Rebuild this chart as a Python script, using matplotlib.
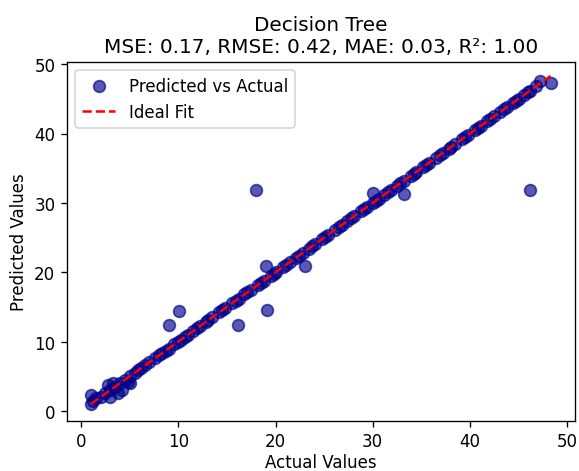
import matplotlib
matplotlib.use("Agg")
import matplotlib.pyplot as plt

# Actual target values and the decision tree's predictions
actual = [
    1.0, 1.0, 1.2, 1.5, 2.0, 2.5, 2.8, 3.0, 3.0, 3.3, 3.5, 3.8, 4.0, 4.2, 4.5, 4.8, 5.0, 5.0,
    5.5, 5.9, 6.2, 6.6, 7.0, 7.6, 8.0, 8.3, 8.7, 9.0, 9.6, 10.0, 10.3, 10.7, 11.0, 11.5,
    11.9, 12.2, 12.8, 13.1, 13.5, 14.2, 14.5, 14.8, 15.5, 15.9, 16.2, 16.8, 17.1, 17.5,
    18.2, 18.5, 18.8, 19.5, 19.8, 20.1, 20.8, 21.1, 21.5, 22.1, 22.4, 22.8, 23.4, 23.8,
    24.1, 24.8, 25.1, 25.4, 26.1, 26.5, 26.8, 27.4, 27.8, 28.1, 28.8, 29.1, 29.4, 30.0,
    30.3, 30.6, 31.2, 31.6, 31.9, 32.5, 32.8, 33.2, 33.9, 34.2, 34.5, 35.2, 35.5, 35.8,
    36.5, 36.9, 37.2, 37.8, 38.1, 38.5, 39.2, 39.5, 39.8, 40.5, 40.8, 41.1, 41.8, 42.1,
    42.5, 43.1, 43.5, 43.8, 44.4, 44.7, 45.0, 45.6, 46.0, 46.2, 46.8, 47.2, 48.3,
    9.0, 10.1, 16.1, 18.0, 19.0, 19.1, 23.0, 30.0, 33.2, 46.2,
]
predicted = [
    1.0, 2.3, 1.4, 1.8, 2.0, 2.6, 3.7, 3.0, 2.0, 4.1, 3.5, 2.6, 4.0, 3.0, 4.5, 4.2, 5.0, 4.0,
    5.5, 5.9, 6.2, 6.6, 7.0, 7.6, 8.0, 8.3, 8.7, 9.0, 9.6, 10.0, 10.3, 10.7, 11.0, 11.5,
    11.9, 12.2, 12.8, 13.1, 13.5, 14.2, 14.5, 14.8, 15.5, 15.9, 16.2, 16.8, 17.1, 17.5,
    18.2, 18.5, 18.8, 19.5, 19.8, 20.1, 20.8, 21.1, 21.5, 22.1, 22.4, 22.8, 23.4, 23.8,
    24.1, 24.8, 25.1, 25.4, 26.1, 26.5, 26.8, 27.4, 27.8, 28.1, 28.8, 29.1, 29.4, 30.0,
    30.3, 30.6, 31.2, 31.6, 31.9, 32.5, 32.8, 33.2, 33.9, 34.2, 34.5, 35.2, 35.5, 35.8,
    36.5, 36.9, 37.2, 37.8, 38.1, 38.5, 39.2, 39.5, 39.8, 40.5, 40.8, 41.1, 41.8, 42.1,
    42.5, 43.1, 43.5, 43.8, 44.4, 44.7, 45.0, 45.6, 46.0, 46.2, 46.8, 47.6, 47.3,
    12.4, 14.4, 12.4, 31.9, 20.9, 14.6, 20.9, 31.4, 31.3, 31.9,
]

title = "Decision Tree\nMSE: 0.17, RMSE: 0.42, MAE: 0.03, R²: 1.00"

fig = plt.figure(figsize=(4.825, 3.933), dpi=120)
ax = fig.add_axes([0.1157, 0.1066, 0.8773, 0.7606])

ax.scatter(actual, predicted, color="darkblue", alpha=0.65, s=50,
           label="Predicted vs Actual")
lo, hi = min(actual), max(actual)
ax.plot([lo, hi], [lo, hi], "r--", lw=1.5, label="Ideal Fit")

ax.set_xlim(-1.45, 50.8)
ax.set_ylim(-1.4, 50.35)
ax.set_xlabel("Actual Values", labelpad=1.5)
ax.set_ylabel("Predicted Values")
ax.set_title(title, fontsize=12)
ax.set_xticks([0, 10, 20, 30, 40, 50])
ax.set_yticks([0, 10, 20, 30, 40, 50])
ax.legend(loc="upper left")

fig.savefig("out.png", dpi=120)
